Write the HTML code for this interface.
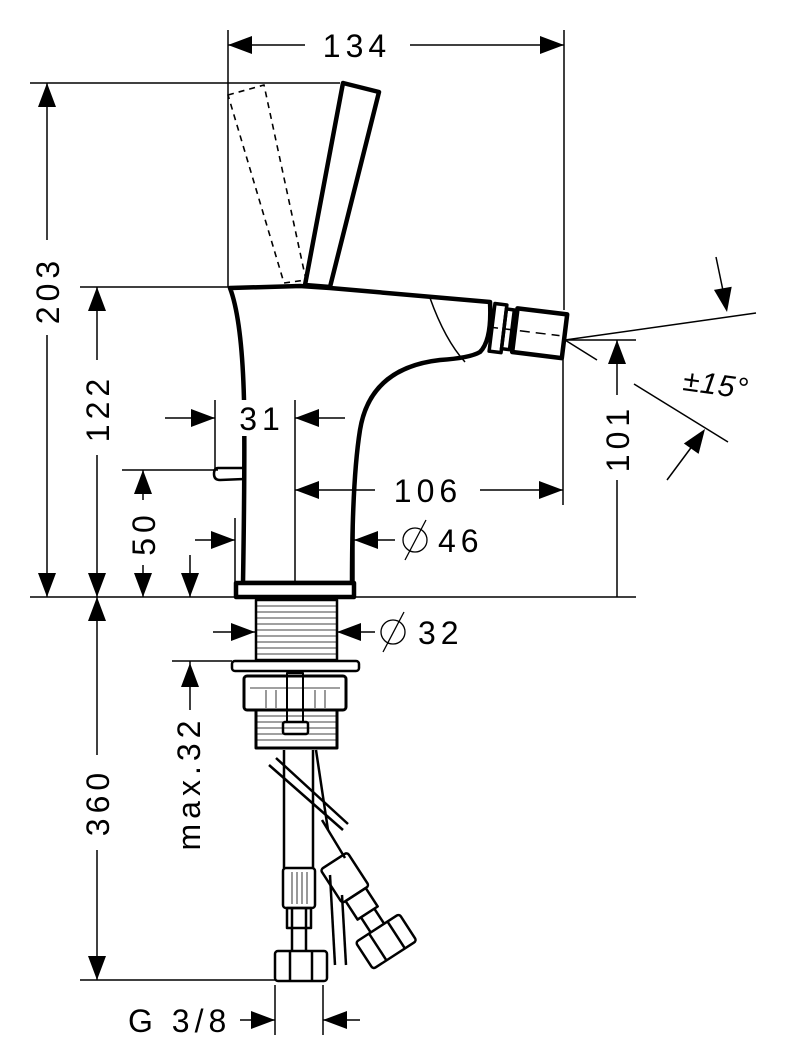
<!DOCTYPE html>
<html><head><meta charset="utf-8"><style>
html,body{margin:0;padding:0;background:#fff}
svg{display:block}
text{font-family:"Liberation Sans","DejaVu Sans",sans-serif;font-size:32px;fill:#000;letter-spacing:5px}
</style></head><body>
<svg width="792" height="1064" viewBox="0 0 792 1064" xmlns="http://www.w3.org/2000/svg">
<defs>
<g id="ar"><polygon points="0,0 -24,-9 -24,9" fill="#000"/></g>
</defs>
<!-- faucet -->
<g stroke="#000" fill="none" stroke-linejoin="round">
<polygon points="228,95 264,85 306,280 284,283" stroke-width="1.6" stroke-dasharray="6,5"/>
<polygon points="343,83 379,92 330,287 305,285" stroke-width="4.5"/>
<path d="M230,288 L300,286 L330,288 L490,302 Q492,340 480,352 Q470,358 440,360 Q370,368 360,430 Q352,480 352,583 L243,583 Q245,460 244,400 Q242,320 230,288 Z" stroke-width="4.5" fill="#fff"/>
<path d="M430,298 Q445,340 465,362" stroke-width="1.5"/>
<rect x="236" y="583" width="118" height="14" stroke-width="4.5" fill="#fff"/>
<path d="M218,468 Q214,468 214,474 Q214,480 220,480 L244,479 L244,468 Z" stroke-width="2.5"/>
<g transform="rotate(7 530 330)">
<rect x="492" y="308" width="12" height="48" stroke-width="3.5"/>
<rect x="504" y="312" width="8" height="40" stroke-width="3.5"/>
<rect x="515" y="310" width="50" height="44" stroke-width="4.5"/>
<line x1="488" y1="332" x2="560" y2="332" stroke-width="1.5" stroke-dasharray="10,6"/>
</g>
<rect x="256" y="600" width="81" height="60" stroke-width="2.5"/>
<rect x="232" y="661" width="127" height="10" rx="3" stroke-width="2.5"/>
<rect x="244" y="676" width="102" height="34" rx="3" stroke-width="3"/>
<rect x="256" y="710" width="81" height="38" stroke-width="3"/>
<rect x="287" y="673" width="16" height="60" stroke-width="2"/>
<rect x="283" y="722" width="25" height="12" rx="2" stroke-width="2.5" fill="#fff"/>
</g>
<g stroke="#000" stroke-width="0.8">
<line x1="257" y1="606" x2="336" y2="606"/><line x1="257" y1="612" x2="336" y2="612"/>
<line x1="257" y1="618" x2="336" y2="618"/><line x1="257" y1="624" x2="336" y2="624"/>
<line x1="257" y1="630" x2="336" y2="630"/><line x1="257" y1="636" x2="336" y2="636"/>
<line x1="257" y1="642" x2="336" y2="642"/><line x1="257" y1="648" x2="336" y2="648"/>
<line x1="257" y1="654" x2="336" y2="654"/>
<line x1="257" y1="716" x2="336" y2="716"/><line x1="257" y1="722" x2="336" y2="722"/>
<line x1="257" y1="728" x2="336" y2="728"/><line x1="257" y1="734" x2="336" y2="734"/>
<line x1="257" y1="740" x2="336" y2="740"/>
<line x1="250" y1="688" x2="340" y2="688"/>
<line x1="266" y1="690" x2="266" y2="708"/><line x1="276" y1="690" x2="276" y2="708"/>
<line x1="315" y1="690" x2="315" y2="708"/><line x1="325" y1="690" x2="325" y2="708"/>
</g>
<g stroke="#000" fill="none" stroke-width="2.5" stroke-linejoin="round">
<line x1="284" y1="750" x2="284" y2="868"/>
<line x1="313" y1="750" x2="313" y2="868"/>
<line x1="316" y1="750" x2="328" y2="830"/>
<line x1="322" y1="820" x2="345" y2="858"/>
<line x1="269" y1="765" x2="343" y2="830"/>
<line x1="276" y1="758" x2="348" y2="824"/>
<rect x="283" y="868" width="32" height="40" rx="3"/>
<rect x="287" y="908" width="24" height="20"/>
<line x1="292" y1="908" x2="292" y2="928"/><line x1="306" y1="908" x2="306" y2="928"/>
<rect x="275" y="951" width="52" height="30" rx="3"/>
<line x1="292" y1="928" x2="292" y2="951"/><line x1="306" y1="928" x2="306" y2="951"/>
<line x1="290" y1="951" x2="290" y2="981"/><line x1="312" y1="951" x2="312" y2="981"/>
<g transform="rotate(-33 345 880)">
<rect x="330" y="858" width="32" height="40" rx="3"/>
<rect x="334" y="898" width="24" height="22"/>
<rect x="320" y="938" width="52" height="32" rx="3"/>
<line x1="338" y1="920" x2="338" y2="938"/><line x1="354" y1="920" x2="354" y2="938"/>
<line x1="336" y1="938" x2="336" y2="970"/><line x1="358" y1="938" x2="358" y2="970"/>
</g>
<line x1="330" y1="875" x2="335" y2="965"/>
<line x1="342" y1="895" x2="346" y2="965"/>
</g>
<g stroke="#000" stroke-width="0.8">
<line x1="292" y1="872" x2="292" y2="904"/><line x1="297" y1="872" x2="297" y2="904"/>
<line x1="302" y1="872" x2="302" y2="904"/><line x1="307" y1="872" x2="307" y2="904"/>
</g>
<!-- white gap behind 31 text -->
<rect x="236" y="400" width="24" height="36" fill="#fff"/>
<!-- dims -->
<g stroke="#000" stroke-width="1.5" fill="none">
<line x1="228" y1="30" x2="228" y2="287"/>
<line x1="564" y1="30" x2="564" y2="310"/>
<line x1="563" y1="345" x2="563" y2="505"/>
<line x1="228" y1="45" x2="305" y2="45"/>
<line x1="410" y1="45" x2="564" y2="45"/>
<line x1="30" y1="83" x2="340" y2="83"/>
<line x1="30" y1="597" x2="636" y2="597"/>
<line x1="47" y1="83" x2="47" y2="240"/>
<line x1="47" y1="335" x2="47" y2="597"/>
<line x1="80" y1="287" x2="230" y2="287"/>
<line x1="97" y1="287" x2="97" y2="360"/>
<line x1="97" y1="455" x2="97" y2="597"/>
<line x1="122" y1="470" x2="218" y2="470"/>
<line x1="143" y1="470" x2="143" y2="500"/>
<line x1="143" y1="565" x2="143" y2="597"/>
<line x1="190" y1="555" x2="190" y2="597"/>
<line x1="97" y1="597" x2="97" y2="755"/>
<line x1="97" y1="850" x2="97" y2="980"/>
<line x1="80" y1="980" x2="275" y2="980"/>
<line x1="172" y1="661" x2="232" y2="661"/>
<line x1="190" y1="661" x2="190" y2="710"/>
<line x1="215" y1="400" x2="215" y2="470"/>
<line x1="295" y1="400" x2="295" y2="583"/>
<line x1="165" y1="418" x2="215" y2="418"/>
<line x1="295" y1="418" x2="345" y2="418"/>
<line x1="295" y1="490" x2="375" y2="490"/>
<line x1="480" y1="490" x2="563" y2="490"/>
<line x1="235" y1="518" x2="235" y2="583"/>
<line x1="354" y1="518" x2="354" y2="583"/>
<line x1="195" y1="540" x2="235" y2="540"/>
<line x1="354" y1="540" x2="395" y2="540"/>
<line x1="213" y1="632" x2="255" y2="632"/>
<line x1="337" y1="632" x2="375" y2="632"/>
<line x1="275" y1="985" x2="275" y2="1035"/>
<line x1="323" y1="985" x2="323" y2="1035"/>
<line x1="240" y1="1020" x2="275" y2="1020"/>
<line x1="323" y1="1020" x2="360" y2="1020"/>
<line x1="565" y1="340" x2="636" y2="340"/>
<line x1="617" y1="340" x2="617" y2="395"/>
<line x1="617" y1="480" x2="617" y2="597"/>
<line x1="565" y1="340" x2="756" y2="313"/>
<line x1="565" y1="340" x2="597" y2="360"/>
<line x1="634" y1="384" x2="728" y2="442"/>
<line x1="716" y1="257" x2="726" y2="305"/>
<line x1="667" y1="480" x2="693" y2="445"/>
</g>
<use href="#ar" transform="translate(228,45) rotate(180)"/>
<use href="#ar" transform="translate(564,45)"/>
<use href="#ar" transform="translate(47,83) rotate(-90)"/>
<use href="#ar" transform="translate(47,597) rotate(90)"/>
<use href="#ar" transform="translate(97,287) rotate(-90)"/>
<use href="#ar" transform="translate(97,597) rotate(90)"/>
<use href="#ar" transform="translate(143,470) rotate(-90)"/>
<use href="#ar" transform="translate(143,597) rotate(90)"/>
<use href="#ar" transform="translate(190,597) rotate(90)"/>
<use href="#ar" transform="translate(97,597) rotate(-90)"/>
<use href="#ar" transform="translate(97,980) rotate(90)"/>
<use href="#ar" transform="translate(190,663) rotate(-90)"/>
<use href="#ar" transform="translate(215,418)"/>
<use href="#ar" transform="translate(295,418) rotate(180)"/>
<use href="#ar" transform="translate(295,490) rotate(180)"/>
<use href="#ar" transform="translate(563,490)"/>
<use href="#ar" transform="translate(235,540)"/>
<use href="#ar" transform="translate(354,540) rotate(180)"/>
<use href="#ar" transform="translate(255,632)"/>
<use href="#ar" transform="translate(337,632) rotate(180)"/>
<use href="#ar" transform="translate(275,1020)"/>
<use href="#ar" transform="translate(323,1020) rotate(180)"/>
<use href="#ar" transform="translate(617,340) rotate(-90)"/>
<use href="#ar" transform="translate(727,312) rotate(80)"/>
<use href="#ar" transform="translate(705,429) rotate(-55)"/>
<text x="357" y="57" text-anchor="middle">134</text>
<text x="428" y="502" text-anchor="middle">106</text>
<text x="262" y="430" text-anchor="middle">31</text>
<text x="438" y="552">46</text>
<text x="418" y="644">32</text>
<text x="128" y="1032">G 3/8</text>
<text transform="translate(59,290) rotate(-90)" text-anchor="middle">203</text>
<text transform="translate(109,408) rotate(-90)" text-anchor="middle">122</text>
<text transform="translate(155,533) rotate(-90)" text-anchor="middle">50</text>
<text transform="translate(109,802) rotate(-90)" text-anchor="middle">360</text>
<text transform="translate(200,783) rotate(-90)" text-anchor="middle">max.32</text>
<text transform="translate(629,438) rotate(-90)" text-anchor="middle">101</text>
<text transform="translate(682,390) rotate(8)" font-style="italic" style="letter-spacing:1px;font-size:30px">±15°</text>
<g stroke="#000" stroke-width="1.3" fill="none">
<circle cx="415" cy="540" r="12"/><line x1="405" y1="560" x2="426" y2="520"/>
<circle cx="393" cy="632" r="12"/><line x1="383" y1="652" x2="404" y2="612"/>
</g>
</svg>
</body></html>
